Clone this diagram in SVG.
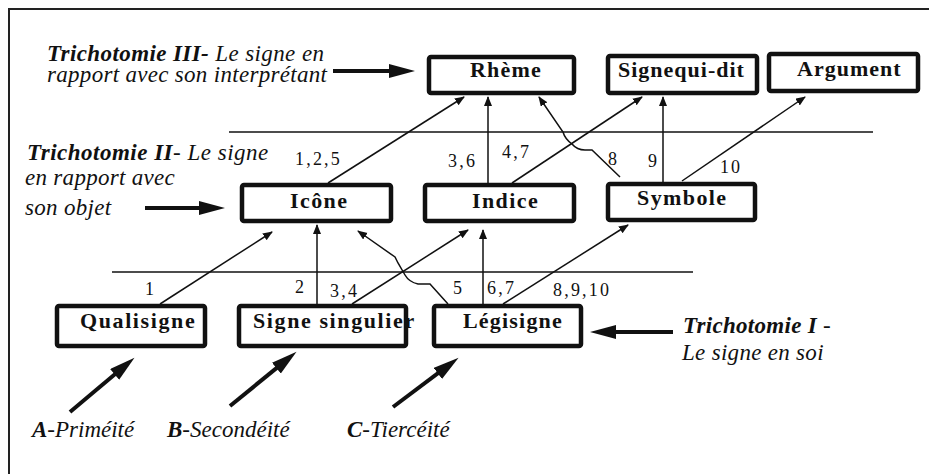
<svg xmlns="http://www.w3.org/2000/svg" width="929" height="474" viewBox="0 0 929 474">
<defs>
<marker id="a" markerUnits="userSpaceOnUse" markerWidth="12" markerHeight="10" refX="9" refY="4" orient="auto">
<path d="M0,0 L10,4 L0,8 z" fill="#111"/>
</marker>
<marker id="big" markerUnits="userSpaceOnUse" markerWidth="30" markerHeight="16" refX="12" refY="7" orient="auto">
<path d="M0,0 L26,7 L0,14 z" fill="#111"/>
</marker>
</defs>
<rect x="0" y="0" width="929" height="474" fill="#fff"/>
<path d="M9,474 V9 H929" stroke="#222" stroke-width="2" fill="none"/>

<g stroke="#111" stroke-width="1.5">
<line x1="229" y1="132" x2="873" y2="132"/>
<line x1="112" y1="272" x2="693" y2="272"/>
</g>

<g id="connectors" stroke="#111" stroke-width="1.5" fill="none">
<line x1="328" y1="183" x2="464" y2="97" marker-end="url(#a)"/>
<line x1="488" y1="183" x2="488" y2="97" marker-end="url(#a)"/>
<line x1="512" y1="183" x2="642" y2="97" marker-end="url(#a)"/>
<path d="M620,177 L592,150 L585,150 Q577,150 572,144 Q565,139 563,132 L539,97" marker-end="url(#a)"/>
<line x1="663" y1="182" x2="663" y2="97" marker-end="url(#a)"/>
<line x1="682" y1="181" x2="805" y2="97" marker-end="url(#a)"/>
<line x1="160" y1="304" x2="272" y2="232" marker-end="url(#a)"/>
<line x1="317" y1="304" x2="317" y2="225" marker-end="url(#a)"/>
<line x1="352" y1="304" x2="468" y2="230" marker-end="url(#a)"/>
<path d="M448,304 L430,284 L418,284 Q409,282 405,275 L398,263 L395,257 L358,231" marker-end="url(#a)"/>
<line x1="483" y1="304" x2="483" y2="230" marker-end="url(#a)"/>
<line x1="503" y1="304" x2="628" y2="225" marker-end="url(#a)"/>
<g stroke-width="4">
<line x1="333" y1="71" x2="401" y2="71" marker-end="url(#big)"/>
<line x1="145" y1="208" x2="211" y2="208" marker-end="url(#big)"/>
<line x1="673" y1="332" x2="604" y2="332" marker-end="url(#big)"/>
<line x1="70" y1="412" x2="123.8" y2="366.7" marker-end="url(#big)"/>
<line x1="230" y1="406" x2="285.7" y2="360.6" marker-end="url(#big)"/>
<line x1="393" y1="407" x2="447.4" y2="366.2" marker-end="url(#big)"/>
</g>
</g>

<g fill="#fff" stroke="#111" stroke-width="4.5">
<g id="rheme"><rect x="429" y="57" width="145" height="36" rx="2"/><text x="470" y="77" font-family="Liberation Serif" font-size="22" font-weight="bold" letter-spacing="1.2" fill="#111" stroke="none">Rhème</text></g>
<g id="signequidit"><rect x="608" y="56" width="149" height="37" rx="2"/><text x="618" y="77" font-family="Liberation Serif" font-size="22" font-weight="bold" letter-spacing="1" fill="#111" stroke="none">Signequi-dit</text></g>
<g id="argument"><rect x="769" y="54" width="149" height="37" rx="2"/><text x="797" y="76" font-family="Liberation Serif" font-size="22" font-weight="bold" letter-spacing="1" fill="#111" stroke="none">Argument</text></g>
<g id="icone"><rect x="242" y="185" width="149" height="36" rx="2"/><text x="290" y="208" font-family="Liberation Serif" font-size="22" font-weight="bold" letter-spacing="1.4" fill="#111" stroke="none">Icône</text></g>
<g id="indice"><rect x="425" y="185" width="149" height="36" rx="2"/><text x="472" y="208" font-family="Liberation Serif" font-size="22" font-weight="bold" letter-spacing="1.4" fill="#111" stroke="none">Indice</text></g>
<g id="symbole"><rect x="608" y="184" width="147" height="36" rx="2"/><text x="637" y="205" font-family="Liberation Serif" font-size="22" font-weight="bold" letter-spacing="1.4" fill="#111" stroke="none">Symbole</text></g>
<g id="qualisigne"><rect x="57" y="306" width="148" height="40" rx="2"/><text x="80" y="328" font-family="Liberation Serif" font-size="22" font-weight="bold" letter-spacing="1.6" fill="#111" stroke="none">Qualisigne</text></g>
<g id="signesingulier"><rect x="239" y="306" width="167" height="40" rx="2"/><text x="253" y="328" font-family="Liberation Serif" font-size="22" font-weight="bold" letter-spacing="1.6" fill="#111" stroke="none">Signe singulier</text></g>
<g id="legisigne"><rect x="434" y="306" width="147" height="40" rx="2"/><text x="463" y="328" font-family="Liberation Serif" font-size="22" font-weight="bold" letter-spacing="1.2" fill="#111" stroke="none">Légisigne</text></g>
</g>

<g id="numbers" fill="#111">
<text x="295" y="165" font-family="Liberation Serif" font-size="18" letter-spacing="2.2">1,2,5</text>
<text x="448" y="167" font-family="Liberation Serif" font-size="18" letter-spacing="2.2">3,6</text>
<text x="502" y="158" font-family="Liberation Serif" font-size="18" letter-spacing="2.2">4,7</text>
<text x="608" y="165" font-family="Liberation Serif" font-size="18">8</text>
<text x="648" y="167" font-family="Liberation Serif" font-size="18">9</text>
<text x="720" y="173" font-family="Liberation Serif" font-size="18" letter-spacing="2">10</text>
<text x="145" y="295" font-family="Liberation Serif" font-size="18">1</text>
<text x="295" y="293" font-family="Liberation Serif" font-size="18">2</text>
<text x="330" y="297" font-family="Liberation Serif" font-size="18" letter-spacing="2.2">3,4</text>
<text x="453" y="294" font-family="Liberation Serif" font-size="18">5</text>
<text x="487" y="294" font-family="Liberation Serif" font-size="18" letter-spacing="2.2">6,7</text>
<text x="553" y="296" font-family="Liberation Serif" font-size="18" letter-spacing="2.2">8,9,10</text>
</g>

<g id="captions" fill="#111">
<text x="47" y="61" font-family="Liberation Serif" font-size="23" font-style="italic" letter-spacing="0.4"><tspan font-weight="bold">Trichotomie III-</tspan> Le signe en</text>
<text x="47" y="82" font-family="Liberation Serif" font-size="23" font-style="italic" letter-spacing="0.3">rapport avec son interprétant</text>
<text x="27" y="160" font-family="Liberation Serif" font-size="23" font-style="italic" letter-spacing="0.5"><tspan font-weight="bold">Trichotomie II</tspan>- Le signe</text>
<text x="25" y="185" font-family="Liberation Serif" font-size="23" font-style="italic" letter-spacing="0.3">en rapport avec</text>
<text x="25" y="215" font-family="Liberation Serif" font-size="23" font-style="italic" letter-spacing="0.3">son objet</text>
<text x="683" y="333" font-family="Liberation Serif" font-size="23" font-style="italic" letter-spacing="0.3"><tspan font-weight="bold">Trichotomie I</tspan> -</text>
<text x="682" y="360" font-family="Liberation Serif" font-size="23" font-style="italic" letter-spacing="0.3">Le signe en soi</text>
<text x="32" y="437" font-family="Liberation Serif" font-size="23" font-style="italic"><tspan font-weight="bold">A</tspan>-Priméité</text>
<text x="167" y="437" font-family="Liberation Serif" font-size="23" font-style="italic"><tspan font-weight="bold">B</tspan>-Secondéité</text>
<text x="347" y="437" font-family="Liberation Serif" font-size="23" font-style="italic"><tspan font-weight="bold">C</tspan>-Tiercéité</text>
</g>
</svg>
